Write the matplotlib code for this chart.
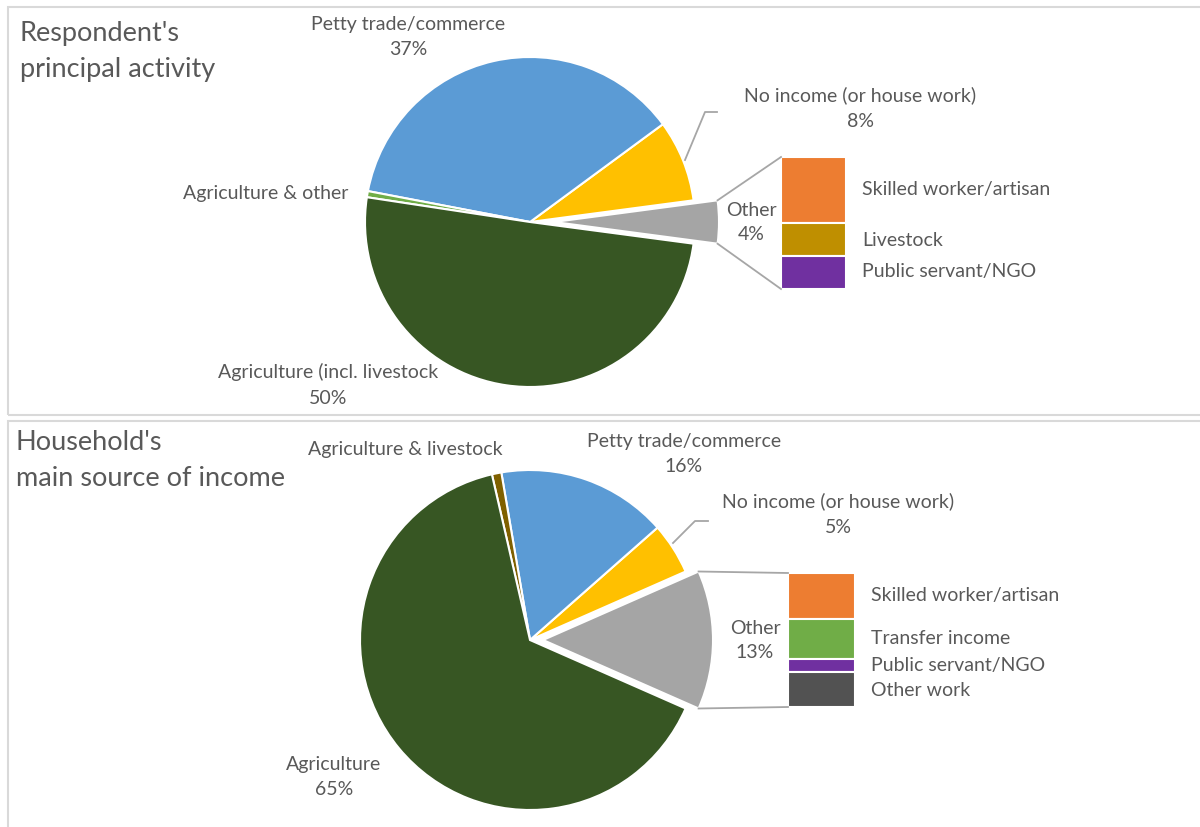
import numpy as np
import matplotlib
matplotlib.use("Agg")
from matplotlib import pyplot as plt
from matplotlib.patches import Rectangle

W, H = 1200, 827
TXT = "#595959"
FS = 14
plt.rcParams["font.family"] = ["Lato", "DejaVu Sans"]

# Respondent's principal activity (pie order: counterclockwise from "Other")
act_labels = ["Other", "No income (or house work)", "Petty trade/commerce",
              "Agriculture & other", "Agriculture (incl. livestock"]
act_values = [4.2, 8.0, 36.9, 0.6, 50.3]
act_colors = ["#A5A5A5", "#FFC000", "#5B9BD5", "#70AD47", "#375623"]
act_other_labels = ["Skilled worker/artisan", "Livestock", "Public servant/NGO"]
act_other_values = [2.1, 1.05, 1.05]
act_other_colors = ["#ED7D31", "#BF8F00", "#7030A0"]

# Household's main source of income
inc_labels = ["Other", "No income (or house work)", "Petty trade/commerce",
              "Agriculture & livestock", "Agriculture"]
inc_values = [13.2, 4.9, 16.2, 0.9, 64.8]
inc_colors = ["#A5A5A5", "#FFC000", "#5B9BD5", "#7F6000", "#375623"]
inc_other_labels = ["Skilled worker/artisan", "Transfer income",
                    "Public servant/NGO", "Other work"]
inc_other_values = [4.5, 4.0, 1.25, 3.45]
inc_other_colors = ["#ED7D31", "#70AD47", "#7030A0", "#525252"]


def Y(y):
    # pixel row measured from the top -> data y
    return H - y


def pie_of_bar(ax, values, colors, sub_values, sub_colors, sub_labels,
               center, radius, offset, bar_x, bar_top, bar_h, bar_w,
               sub_label_y):
    cx, cy = center
    half = values[0] * 1.8
    # explode distances are in data units here (pixels)
    explode = [offset] + [0] * (len(values) - 1)
    ax.pie(values, colors=colors, center=(cx, Y(cy)), radius=radius,
           startangle=-half, explode=explode, counterclock=True,
           wedgeprops=dict(edgecolor="white", linewidth=1.5))

    # stacked bar breaking down the "Other" slice
    scale = bar_h / sum(sub_values)
    top = Y(bar_top)
    for v, c in zip(sub_values, sub_colors):
        ax.bar(bar_x, v * scale, width=bar_w, bottom=top - v * scale,
               align="edge", color=c, edgecolor="white", linewidth=1.5)
        top -= v * scale
    for lab, ly in zip(sub_labels, sub_label_y):
        ax.text(bar_x + bar_w + 16, Y(ly), lab, fontsize=FS, color=TXT,
                va="center", ha="left")

    # connector lines from the exploded slice to the bar
    t = np.radians(half)
    ex = cx + offset + radius * np.cos(t)
    ax.plot([ex, bar_x], [Y(cy) + radius * np.sin(t), Y(bar_top)],
            color="#A6A6A6", lw=1.3)
    ax.plot([ex, bar_x], [Y(cy) - radius * np.sin(t), Y(bar_top + bar_h)],
            color="#A6A6A6", lw=1.3)


def label(x, y, text, value=None, **kw):
    s = text if value is None else f"{text}\n{value:.0f}%"
    ax.text(x, Y(y), s, fontsize=FS, color=TXT, va="center",
            ha=kw.pop("ha", "center"), linespacing=kw.pop("ls", 1.6), **kw)


fig = plt.figure(figsize=(W / 100, H / 100), dpi=100)
ax = fig.add_axes([0, 0, 1, 1])

# panel frames
ax.add_patch(Rectangle((8, Y(415)), 1210, 408, fill=False,
                       edgecolor="#D9D9D9", lw=1.5))
ax.add_patch(Rectangle((8, -20), 1210, Y(421) + 20, fill=False,
                       edgecolor="#D9D9D9", lw=1.5))

# top panel
pie_of_bar(ax, act_values, act_colors, act_other_values, act_other_colors,
           act_other_labels, center=(530, 222), radius=165, offset=24,
           bar_x=781, bar_top=157, bar_h=132, bar_w=65,
           sub_label_y=[189, 240, 272])
ax.text(20, Y(51), "Respondent's\nprincipal activity", fontsize=19.5,
        color=TXT, va="center", ha="left", linespacing=1.55)
label(408, 37, act_labels[2], act_values[2])
label(860, 108, act_labels[1], act_values[1])
ax.plot([685, 705, 717], [Y(160), Y(112), Y(112)], color="#A6A6A6", lw=1.3)
label(348, 194, act_labels[3], ha="right")
label(328, 385, act_labels[4], act_values[4])
label(751, 223, act_labels[0], act_values[0], ls=1.5)

# bottom panel
pie_of_bar(ax, inc_values, inc_colors, inc_other_values, inc_other_colors,
           inc_other_labels, center=(530, 640), radius=170, offset=13,
           bar_x=788, bar_top=573, bar_h=134, bar_w=67,
           sub_label_y=[595, 638, 665, 690])
ax.text(16, Y(461), "Household's\nmain source of income", fontsize=19.5,
        color=TXT, va="center", ha="left", linespacing=1.55)
label(405, 450, inc_labels[3])
label(684, 454, inc_labels[2], inc_values[2])
label(838, 514, inc_labels[1], inc_values[1])
ax.plot([673, 695, 708], [Y(543), Y(521), Y(521)], color="#A6A6A6", lw=1.3)
label(334, 777, inc_labels[4], inc_values[4])
label(755, 641, inc_labels[0], inc_values[0], ls=1.5)

ax.set_xlim(0, W)
ax.set_ylim(0, H)
ax.set_aspect("equal")
ax.axis("off")
fig.savefig("out.png", dpi=100)
